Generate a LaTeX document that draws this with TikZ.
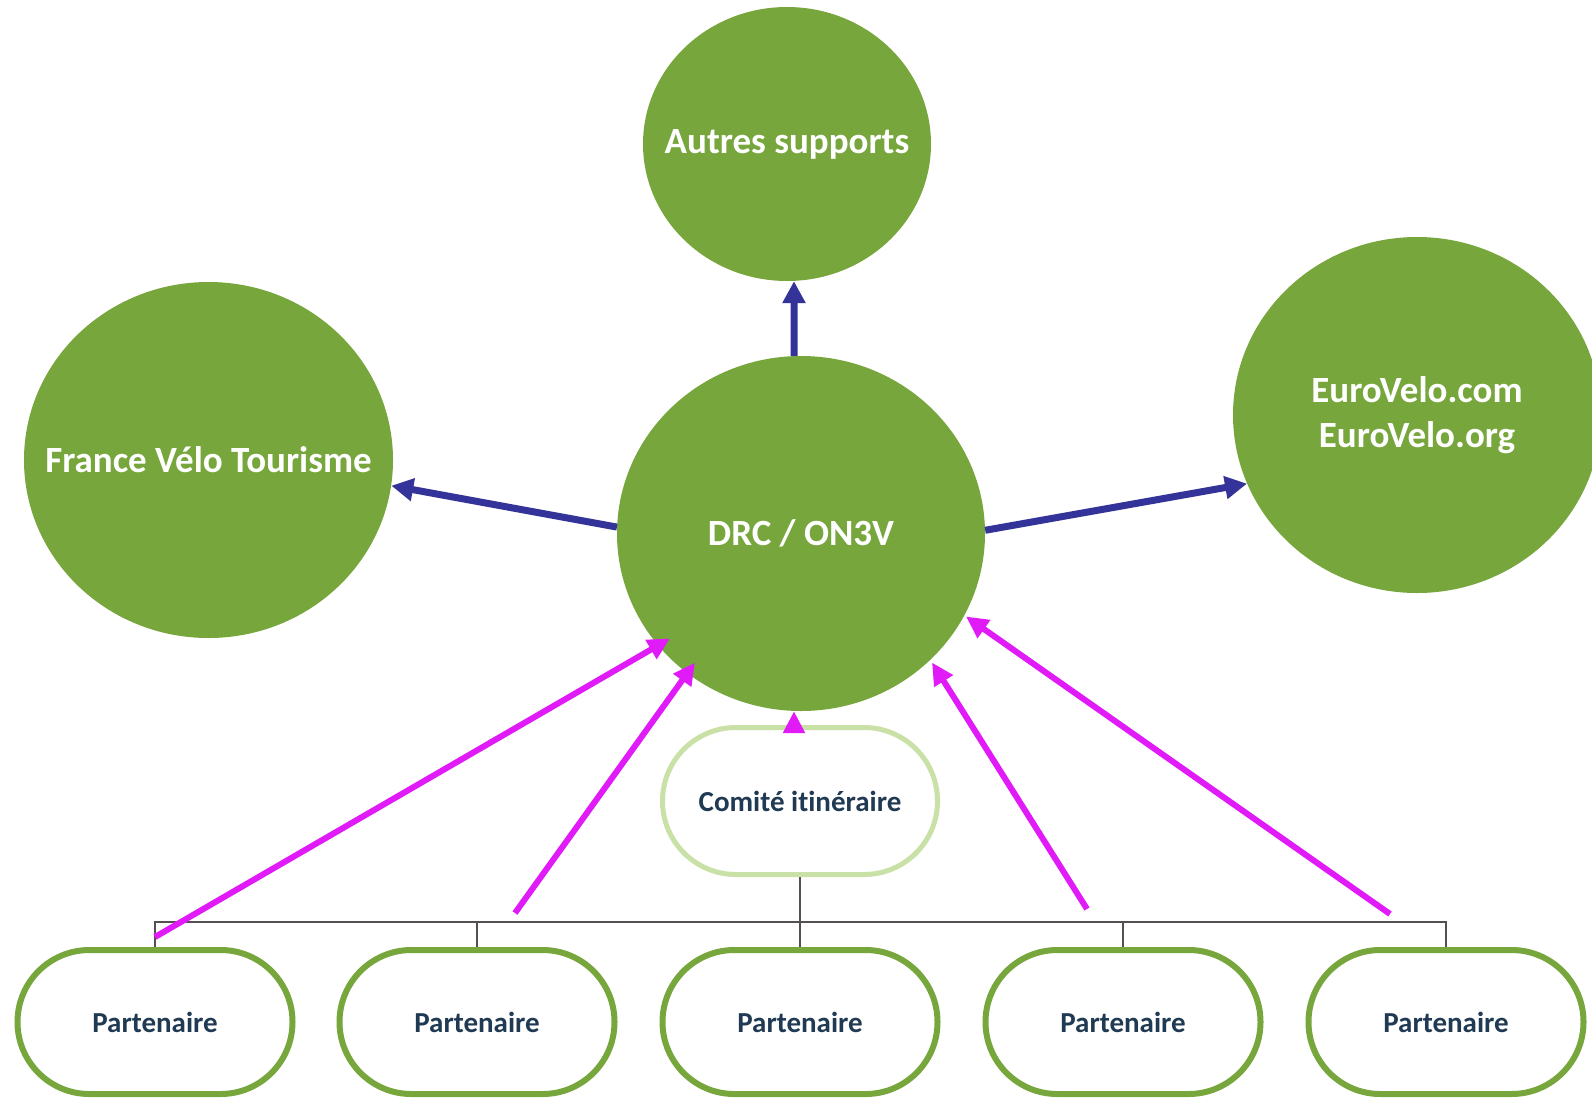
\documentclass[tikz,border=0pt]{standalone}
\usepackage{fontspec}
\setmainfont{Carlito}[Ligatures=CommonOff]
\usepackage{xcolor}
\usetikzlibrary{arrows.meta,shapes.geometric}

\definecolor{leafgreen}{HTML}{77A63D}
\definecolor{palegreen}{HTML}{C9E1A7}
\definecolor{inknavy}{HTML}{1F3A52}
\definecolor{flowblue}{HTML}{333399}
\definecolor{flowpink}{HTML}{E01BF8}
\definecolor{branchgray}{HTML}{555050}

\begin{document}
\begin{tikzpicture}[
	x = 1bp, y = -1bp,  % pixel grid, y going down
	bubble/.style = {shape = ellipse, fill = leafgreen,
		inner xsep = -180bp, inner ysep = 0mm,
		text = white, align = center,
		font = \fontsize{37bp}{45bp}\selectfont\bfseries},
	pill/.style = {shape = rectangle, draw = leafgreen, line width = 6bp,
		fill = white, rounded corners = 71.9bp,
		minimum width = 275bp, minimum height = 144bp, text = inknavy,
		font = \fontsize{29bp}{35bp}\selectfont\bfseries},
	bluearrow/.style = {draw = flowblue, line width = 7bp,
		-{Triangle[width=22bp,length=22bp]}},
	pinkarrow/.style = {draw = flowpink, line width = 6bp,
		-{Triangle[width=21bp,length=22bp]}},
	branch/.style = {draw = branchgray, line width = 2bp}
	]
	\useasboundingbox (0,0) rectangle (1592,1099);

	\node[bubble, minimum width = 288bp, minimum height = 274bp] (autres) at (787,144) {Autres supports};
	\node[bubble, minimum width = 369bp, minimum height = 356bp] (france) at (208.5,460) {France Vélo Tourisme};
	\node[bubble, minimum width = 368bp, minimum height = 355bp] (drc) at (801,533.5) {DRC / ON3V};
	\node[bubble, minimum width = 368bp, minimum height = 356bp] (euro) at (1417,415) {EuroVelo.com\\EuroVelo.org};

	\node[pill, draw = palegreen, line width = 5bp, minimum height = 147bp,
		rounded corners = 73.4bp] (comite) at (800,801) {Comité itinéraire};

	\foreach \i/\x in {1/155, 2/477, 3/800, 4/1123, 5/1446}
		\node[pill] (p\i) at (\x,1022) {Partenaire};

	\foreach \i in {1,...,5}
		\draw[branch] (comite.south) -- ++(0,45) -| (p\i.north);

	\draw[bluearrow] ([xshift=-7bp]drc.north) -- ([xshift=7bp]autres.south);
	\draw[bluearrow] (drc.178) -- (france.-8);
	\draw[bluearrow] (drc.1) -- (euro.202);

	\draw[pinkarrow] ([yshift=10bp]p1.north) -- ([shift={(-131,105)}]drc.center);
	\draw[pinkarrow] ([shift={(38,-34)}]p2.north) -- ([shift={(-106,129)}]drc.center);
	\draw[pinkarrow] ([shift={(-6,-8)}]comite.north) -- ([xshift=-7bp]drc.south);
	\draw[pinkarrow] ([shift={(-36,-38)}]p4.north) -- ([shift={(131,129)}]drc.center);
	\draw[pinkarrow] ([shift={(-56,-33)}]p5.north) -- ([shift={(165,83)}]drc.center);
\end{tikzpicture}
\end{document}
